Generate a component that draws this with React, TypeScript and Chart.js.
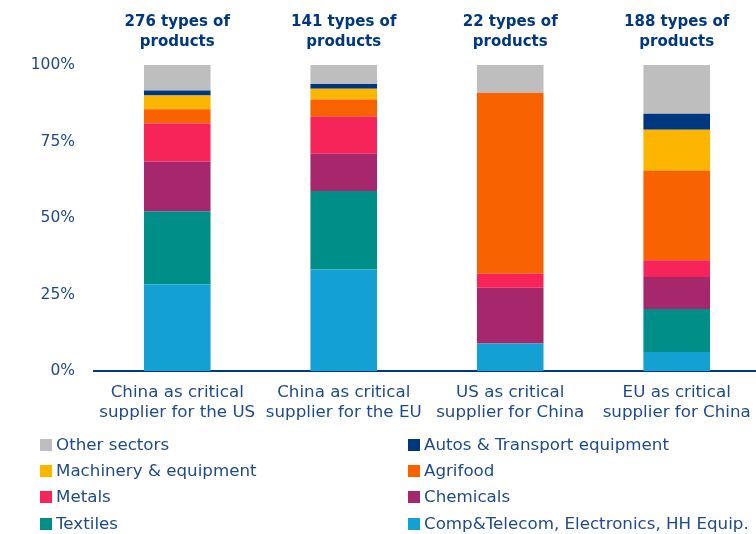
import React, { useEffect, useRef } from "react";
import { Chart, registerables } from "chart.js";

Chart.register(...registerables);

const categories = [
  ["China as critical", "supplier for the US"],
  ["China as critical", "supplier for the EU"],
  ["US as critical", "supplier for China"],
  ["EU as critical", "supplier for China"],
];
const productCounts = [
  ["276 types of", "products"],
  ["141 types of", "products"],
  ["22 types of", "products"],
  ["188 types of", "products"],
];
const yTicks = [0, 25, 50, 75, 100];

const compTelecom = [28.3, 33.2, 9.0, 6.2];
const textiles = [23.9, 25.6, 0, 14.1];
const chemicals = [16.3, 12.2, 18.2, 10.4];
const metals = [12.4, 12.1, 4.6, 5.5];
const agrifood = [4.6, 5.6, 59.1, 29.3];
const machinery = [4.5, 3.5, 0, 13.3];
const autos = [1.7, 1.6, 0, 5.3];
const otherSectors = [8.3, 6.2, 9.1, 15.9];

const seriesNames = [
  "Comp&Telecom, Electronics, HH Equip.",
  "Textiles",
  "Chemicals",
  "Metals",
  "Agrifood",
  "Machinery & equipment",
  "Autos & Transport equipment",
  "Other sectors",
];
const seriesValues = [compTelecom, textiles, chemicals, metals, agrifood, machinery, autos, otherSectors];
const seriesColors = ["#13A0D3", "#008F88", "#A6276C", "#F62459", "#F86200", "#FCB500", "#003781", "#BEBEBE"];

// legend order (row-major, two columns)
const legendOrder = [7, 6, 5, 4, 3, 2, 1, 0];

const FONT = "'DejaVu Sans', sans-serif";
const TEXT = "#1e4a8c";
const DARK = "#003781";

export default function App() {
  const canvasRef = useRef<HTMLCanvasElement | null>(null);

  useEffect(() => {
    if (!canvasRef.current) return;
    const chart = new Chart(canvasRef.current, {
      type: "bar",
      data: {
        labels: categories,
        datasets: seriesNames.map((name, i) => ({
          label: name,
          data: seriesValues[i],
          backgroundColor: seriesColors[i],
          borderWidth: 0,
          barPercentage: 0.5,
          categoryPercentage: 0.8,
        })),
      },
      options: {
        animation: false,
        responsive: false,
        devicePixelRatio: 1,
        layout: { padding: 0 },
        plugins: { legend: { display: false }, tooltip: { enabled: false }, title: { display: false } },
        scales: {
          x: {
            type: "category",
            position: "bottom",
            stacked: true,
            offset: true,
            grid: { display: false, drawTicks: false },
            border: { display: true, color: DARK, width: 2 },
            ticks: {
              color: TEXT,
              font: { family: FONT, size: 16.7, lineHeight: "20.5px" },
              padding: 11,
              maxRotation: 0,
              autoSkip: false,
            },
            afterFit: (s: any) => {
              s.height = 163;
            },
          },
          x2: {
            type: "category",
            position: "top",
            labels: productCounts as any,
            offset: true,
            grid: { display: false, drawTicks: false },
            border: { display: false },
            ticks: {
              color: DARK,
              font: { family: FONT, size: 15, weight: "bold", lineHeight: "19.7px" },
              padding: 13.5,
              maxRotation: 0,
              autoSkip: false,
            },
            afterFit: (s: any) => {
              s.height = 65;
            },
          },
          y: {
            stacked: true,
            min: 0,
            max: 100,
            grid: { display: false, drawTicks: false },
            border: { display: false },
            afterBuildTicks: (s: any) => {
              s.ticks = yTicks.map((v) => ({ value: v }));
            },
            ticks: {
              color: TEXT,
              font: { family: FONT, size: 15.5 },
              padding: 19,
              callback: (v: any) => v + "%",
            },
            afterFit: (s: any) => {
              s.width = 94;
            },
          },
        },
      },
    });
    return () => chart.destroy();
  }, []);

  return (
    <div
      style={{
        position: "fixed",
        left: 0,
        top: 0,
        width: 756,
        height: 534,
        overflow: "hidden",
        background: "#fff",
      }}
    >
      <canvas
        ref={canvasRef}
        width={762}
        height={534}
        style={{ position: "absolute", left: 0, top: 0, width: 762, height: 534 }}
      />
      {legendOrder.map((si, k) => {
        const row = Math.floor(k / 2);
        const col = k % 2;
        return (
          <div
            key={si}
            style={{
              position: "absolute",
              left: col ? 408 : 40,
              top: 431 + row * 26.2,
              height: 26,
              display: "flex",
              alignItems: "center",
              fontFamily: FONT,
              fontSize: 16.7,
              color: TEXT,
              whiteSpace: "nowrap",
            }}
          >
            <span
              style={{
                display: "inline-block",
                width: 12,
                height: 12,
                background: seriesColors[si],
                marginRight: 4,
                marginTop: 2,
              }}
            />
            <span>{seriesNames[si]}</span>
          </div>
        );
      })}
    </div>
  );
}
